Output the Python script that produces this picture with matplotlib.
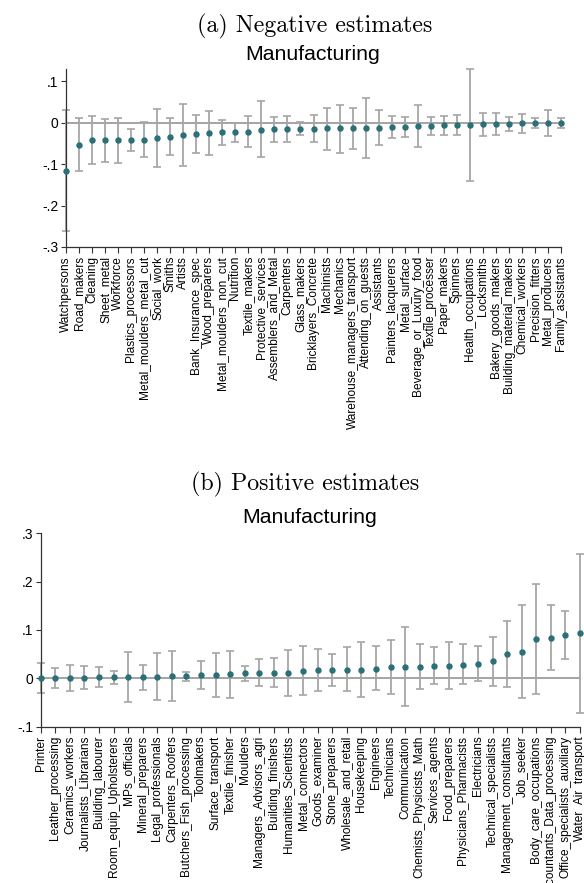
import numpy as np
import matplotlib
matplotlib.use("Agg")
import matplotlib.pyplot as plt

# (a) negative estimates
neg_names = ['Watchpersons', 'Road_makers', 'Cleaning', 'Sheet_metal', 'Workforce',
             'Plastics_processors', 'Metal_moulders_metal_cut', 'Social_work', 'Smiths',
             'Artists', 'Bank_Insurance_spec', 'Wood_preparers', 'Metal_moulders_non_cut',
             'Nutrition', 'Textile_makers', 'Protective_services', 'Assemblers_and_Metal',
             'Carpenters', 'Glass_makers', 'Bricklayers_Concrete', 'Machinists', 'Mechanics',
             'Warehouse_managers_transport', 'Attending_on_guests', 'Assistants',
             'Painters_lacquerers', 'Metal_surface', 'Beverage_or_Luxury_food',
             'Textile_processer', 'Paper_makers', 'Spinners', 'Health_occupations',
             'Locksmiths', 'Bakery_goods_makers', 'Building_material_makers',
             'Chemical_workers', 'Precision_fitters', 'Metal_producers', 'Family_assistants']
neg_est = [-0.116, -0.054, -0.043, -0.042, -0.042, -0.042, -0.042, -0.038, -0.034,
           -0.030, -0.027, -0.026, -0.024, -0.024, -0.022, -0.017, -0.016, -0.016,
           -0.015, -0.015, -0.014, -0.014, -0.014, -0.014, -0.012, -0.011, -0.010,
           -0.009, -0.008, -0.007, -0.006, -0.006, -0.004, -0.003, -0.003, -0.002,
           -0.002, -0.001, -0.001]
neg_lo = [-0.262, -0.118, -0.101, -0.094, -0.097, -0.069, -0.083, -0.106, -0.078,
          -0.105, -0.074, -0.078, -0.054, -0.046, -0.058, -0.083, -0.046, -0.048,
          -0.031, -0.048, -0.066, -0.073, -0.065, -0.086, -0.054, -0.038, -0.034,
          -0.060, -0.031, -0.030, -0.029, -0.142, -0.032, -0.030, -0.020, -0.025,
          -0.014, -0.032, -0.014]
neg_hi = [0.030, 0.011, 0.015, 0.009, 0.011, -0.015, 0.001, 0.033, 0.010,
          0.045, 0.018, 0.028, 0.006, -0.002, 0.015, 0.051, 0.014, 0.015,
          0.002, 0.017, 0.036, 0.043, 0.036, 0.058, 0.030, 0.016, 0.014,
          0.042, 0.014, 0.015, 0.017, 0.129, 0.022, 0.023, 0.014, 0.021,
          0.011, 0.030, 0.011]
neg_yticks = [-0.3, -0.2, -0.1, 0, 0.1]
neg_yticklabels = ['-.3', '-.2', '-.1', '0', '.1']

# (b) positive estimates
pos_names = ['Printer', 'Leather_processing', 'Ceramics_workers', 'Journalists_Librarians',
             'Building_labourer', 'Room_equip_Upholsterers', 'MPs_officials',
             'Mineral_preparers', 'Legal_professionals', 'Carpenters_Roofers',
             'Butchers_Fish_processing', 'Toolmakers', 'Surface_transport',
             'Textile_finisher', 'Moulders', 'Managers_Advisors_agri', 'Building_finishers',
             'Humanities_Scientists', 'Metal_connectors', 'Goods_examiner', 'Stone_preparers',
             'Wholesale_and_retail', 'Housekeeping', 'Engineers', 'Technicians',
             'Communication', 'Chemists_Physicists_Math', 'Services_agents',
             'Food_preparers', 'Physicians_Pharmacists', 'Electricians',
             'Technical_specialists', 'Management_consultants', 'Job_seeker',
             'Body_care_occupations', 'Accountants_Data_processing',
             'Office_specialists_auxiliary', 'Water_Air_transport']
pos_est = [0.000, 0.000, 0.001, 0.001, 0.002, 0.002, 0.002, 0.002, 0.003, 0.004,
           0.005, 0.006, 0.006, 0.008, 0.010, 0.011, 0.011, 0.011, 0.015, 0.016,
           0.016, 0.018, 0.018, 0.020, 0.023, 0.023, 0.024, 0.025, 0.025, 0.028,
           0.030, 0.035, 0.050, 0.055, 0.081, 0.084, 0.090, 0.093]
pos_lo = [-0.031, -0.021, -0.027, -0.023, -0.018, -0.012, -0.050, -0.025, -0.045, -0.048,
          -0.005, -0.023, -0.039, -0.042, -0.006, -0.016, -0.018, -0.036, -0.035, -0.027,
          -0.016, -0.027, -0.039, -0.025, -0.032, -0.058, -0.022, -0.012, -0.022, -0.013,
          -0.005, -0.016, -0.018, -0.041, -0.033, 0.016, 0.040, -0.073]
pos_hi = [0.032, 0.021, 0.027, 0.025, 0.023, 0.014, 0.055, 0.028, 0.053, 0.056,
          0.012, 0.035, 0.053, 0.057, 0.026, 0.039, 0.041, 0.059, 0.066, 0.060,
          0.050, 0.064, 0.075, 0.066, 0.080, 0.106, 0.071, 0.064, 0.075, 0.070,
          0.066, 0.085, 0.118, 0.151, 0.195, 0.152, 0.139, 0.258]
pos_yticks = [-0.1, 0, 0.1, 0.2, 0.3]
pos_yticklabels = ['-.1', '0', '.1', '.2', '.3']

W, H = 584, 883
SANS = 'Liberation Sans'
SERIF = 'cmr10'


def coef_panel(fig, box, names, est, lo, hi, yticks, yticklabels, ylim):
    left, top, right, bottom = box
    ax = fig.add_axes([left / W, 1 - bottom / H, (right - left) / W, (bottom - top) / H])
    x = np.arange(len(names))
    est = np.array(est)
    yerr = [est - np.array(lo), np.array(hi) - est]
    ax.axhline(0, color='#8c8c8c', lw=1.1, zorder=1)
    ax.errorbar(x, est, yerr=yerr, fmt='none', ecolor='#a6a6a6', elinewidth=1.3,
                capsize=3.2, capthick=1.2, zorder=2)
    ax.plot(x, est, 'o', color='#2b6f77', ms=3.6, mec='#2b6f77', zorder=3)
    ax.set_xlim(0, len(names) - 1)
    ax.set_ylim(*ylim)
    ax.set_xticks(x)
    ax.set_xticklabels(names, rotation=90, fontsize=8.6, family=SANS)
    ax.set_yticks(yticks)
    ax.set_yticklabels(yticklabels, fontsize=10, family=SANS)
    for s in ['top', 'right']:
        ax.spines[s].set_visible(False)
    for s in ['left', 'bottom']:
        ax.spines[s].set_color('#333333')
        ax.spines[s].set_linewidth(0.9)
        ax.spines[s].set_clip_on(False)
    ax.tick_params(axis='y', length=3.6, width=0.8, color='#333333', pad=2)
    ax.tick_params(axis='x', length=4, width=0.8, color='#333333', pad=2.5)
    for c in ax.get_children():
        try:
            c.set_clip_on(False)
        except Exception:
            pass
    return ax


fig = plt.figure(figsize=(W / 100, H / 100), dpi=100)

coef_panel(fig, (66, 69, 561, 247), neg_names, neg_est, neg_lo, neg_hi,
           neg_yticks, neg_yticklabels, (-0.3, 0.129))
fig.text(315 / W, 1 - 32 / H, '(a) Negative estimates', family=SERIF, fontsize=17.2,
         ha='center', va='baseline')
fig.text(313 / W, 1 - 60 / H, 'Manufacturing', family=SANS, fontsize=15.3,
         ha='center', va='baseline')

coef_panel(fig, (40.7, 533.3, 580, 726.5), pos_names, pos_est, pos_lo, pos_hi,
           pos_yticks, pos_yticklabels, (-0.1, 0.3))
fig.text(305.5 / W, 1 - 490 / H, '(b) Positive estimates', family=SERIF, fontsize=17.2,
         ha='center', va='baseline')
fig.text(310 / W, 1 - 523 / H, 'Manufacturing', family=SANS, fontsize=15.3,
         ha='center', va='baseline')

fig.savefig('out.png', dpi=100)
